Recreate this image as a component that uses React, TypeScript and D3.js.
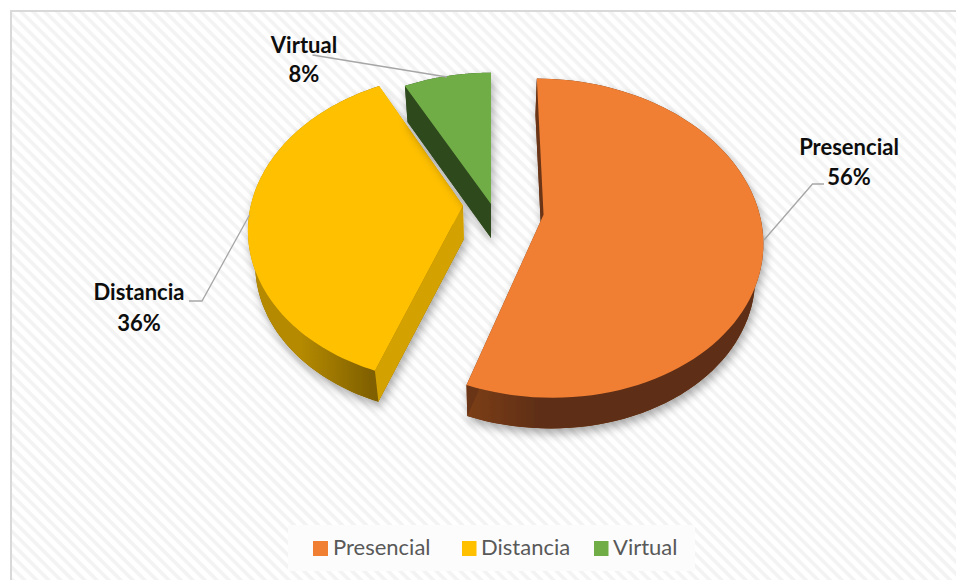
import React from "react";
import * as d3 from "d3";

const categories = ["Presencial", "Distancia", "Virtual"];
const shares = [55.2, 36.6, 7.6];
const shareLabels = ["56%", "36%", "8%"];
const sliceColors = ["#F07F33", "#FFC000", "#70AD47"];
const rimLight = ["#7c3f18", "#b58a00", "#2f4a1e"];
const rimDark = ["#5f2e12", "#806000", "#2f4a1e"];
const edgeColors = ["#6b3415", "#d4a200", "#2f4a1e"];

// Pie-plane placement of each slice's apex, in radius units
const apexX = [0.243, -0.131, 0];
const apexY = [0.07, 0.01, 0];
const radiusScale = [1, 0.99, 0.98];

const W = 956, H = 580;
const cx = 491, cy = 204;
const fx = 214, fy = 153, persp = 0.145;

const project = (px: number, py: number): [number, number] => {
  const d = 1 - persp * py;
  return [cx + (fx * px) / d, cy + (fy * py) / d];
};
const drop = ([x, y]: [number, number]): [number, number] => [
  cx + (x - cx) * 0.97,
  y + 34 - (y - cy) * 0.017,
];

const poly = (pts: [number, number][]) => d3.line()(pts) + "Z";

const arcs = d3.pie<number>().sort(null)(shares);

const labelStyle = { fontFamily: "Lato", fontWeight: 700, fontSize: 22, fill: "#0d0d0d" } as const;

const labelX = [849, 139, 304];
const labelY1 = [155, 300, 53];
const labelY2 = [185, 331, 82];
const leaders: [number, number][][] = [
  [[824, 184], [812.5, 184], [764, 240]],
  [[189, 301], [202, 301], [249.5, 215]],
  [[312.5, 55], [447, 77]],
];
const legendX = [313, 462, 594];
const legendTextX = [333, 481, 613];
const legendSize = [15, 14.5, 14.5];

export default function App() {
  const slices = arcs.map((a, i) => {
    const r = radiusScale[i];
    const ax = apexX[i], ay = apexY[i];
    const n = 90;
    const pts: [number, number][] = d3.range(n + 1).map((k) => {
      const t = a.startAngle + ((a.endAngle - a.startAngle) * k) / n;
      return project(ax + r * Math.sin(t), ay - r * Math.cos(t));
    });
    const apex = project(ax, ay);
    const bottom = pts.map(drop);
    return {
      i,
      top: poly([apex, ...pts]),
      rim: poly([...pts, ...bottom.slice().reverse()]),
      startFace: poly([apex, pts[0], bottom[0], drop(apex)]),
      endFace: poly([apex, pts[n], bottom[n], drop(apex)]),
      under: poly([drop(apex), ...bottom]),
    };
  });

  return (
    <svg
      width={W}
      height={H}
      viewBox={`0 0 ${W} ${H}`}
      style={{ position: "absolute", left: 0, top: 0, display: "block" }}
    >
      <defs>
        <pattern id="hatch" width="8.5" height="8.5" patternUnits="userSpaceOnUse" patternTransform="rotate(45)">
          <rect width="8.5" height="8.5" fill="#ffffff" />
          <rect width="8.5" height="3.6" fill="#f3f3f3" />
        </pattern>
        <filter id="shadow" x="-20%" y="-20%" width="140%" height="140%">
          <feDropShadow dx="2" dy="5" stdDeviation="5" floodColor="#000" floodOpacity="0.33" />
        </filter>
        <linearGradient id="rim0" gradientUnits="userSpaceOnUse" x1="466" x2="540" y1="0" y2="0">
          <stop offset="0" stopColor={rimLight[0]} />
          <stop offset="1" stopColor={rimDark[0]} />
        </linearGradient>
        <linearGradient id="rim1" gradientUnits="userSpaceOnUse" x1="262" x2="372" y1="0" y2="0">
          <stop offset="0" stopColor={rimLight[1]} />
          <stop offset="0.35" stopColor="#b58a00" />
          <stop offset="1" stopColor={rimDark[1]} />
        </linearGradient>
        <linearGradient id="rim2" gradientUnits="userSpaceOnUse" x1="405" x2="491" y1="0" y2="0">
          <stop offset="0" stopColor={rimLight[2]} />
          <stop offset="1" stopColor={rimDark[2]} />
        </linearGradient>
      </defs>

      <rect x={11} y={11} width={W} height={H} fill="url(#hatch)" stroke="#d9d9d9" strokeWidth={2} />

      {slices.map((s) => (
        <g key={s.i}>
          <g filter="url(#shadow)">
            <path d={s.under} fill={rimDark[s.i]} />
            <path d={s.rim} fill={`url(#rim${s.i})`} />
            <path d={s.startFace} fill={edgeColors[s.i]} />
            <path d={s.endFace} fill={edgeColors[s.i]} />
          </g>
          <path d={s.top} fill={sliceColors[s.i]} />
        </g>
      ))}

      {leaders.map((l, i) => (
        <path key={i} d={d3.line()(l)!} fill="none" stroke="#a6a6a6" strokeWidth={1.3} />
      ))}

      {categories.map((c, i) => (
        <g key={c} textAnchor="middle" style={labelStyle}>
          <text x={labelX[i]} y={labelY1[i]}>{c}</text>
          <text x={labelX[i]} y={labelY2[i]}>{shareLabels[i]}</text>
        </g>
      ))}

      <rect x={288} y={525} width={407} height={46} fill="#fcfcfc" />
      {categories.map((c, i) => (
        <g key={c}>
          <rect x={legendX[i]} y={541} width={legendSize[i]} height={15} fill={sliceColors[i]} />
          <text x={legendTextX[i]} y={555} style={{ fontFamily: "Lato", fontSize: 22, fill: "#595959" }}>{c}</text>
        </g>
      ))}
    </svg>
  );
}
